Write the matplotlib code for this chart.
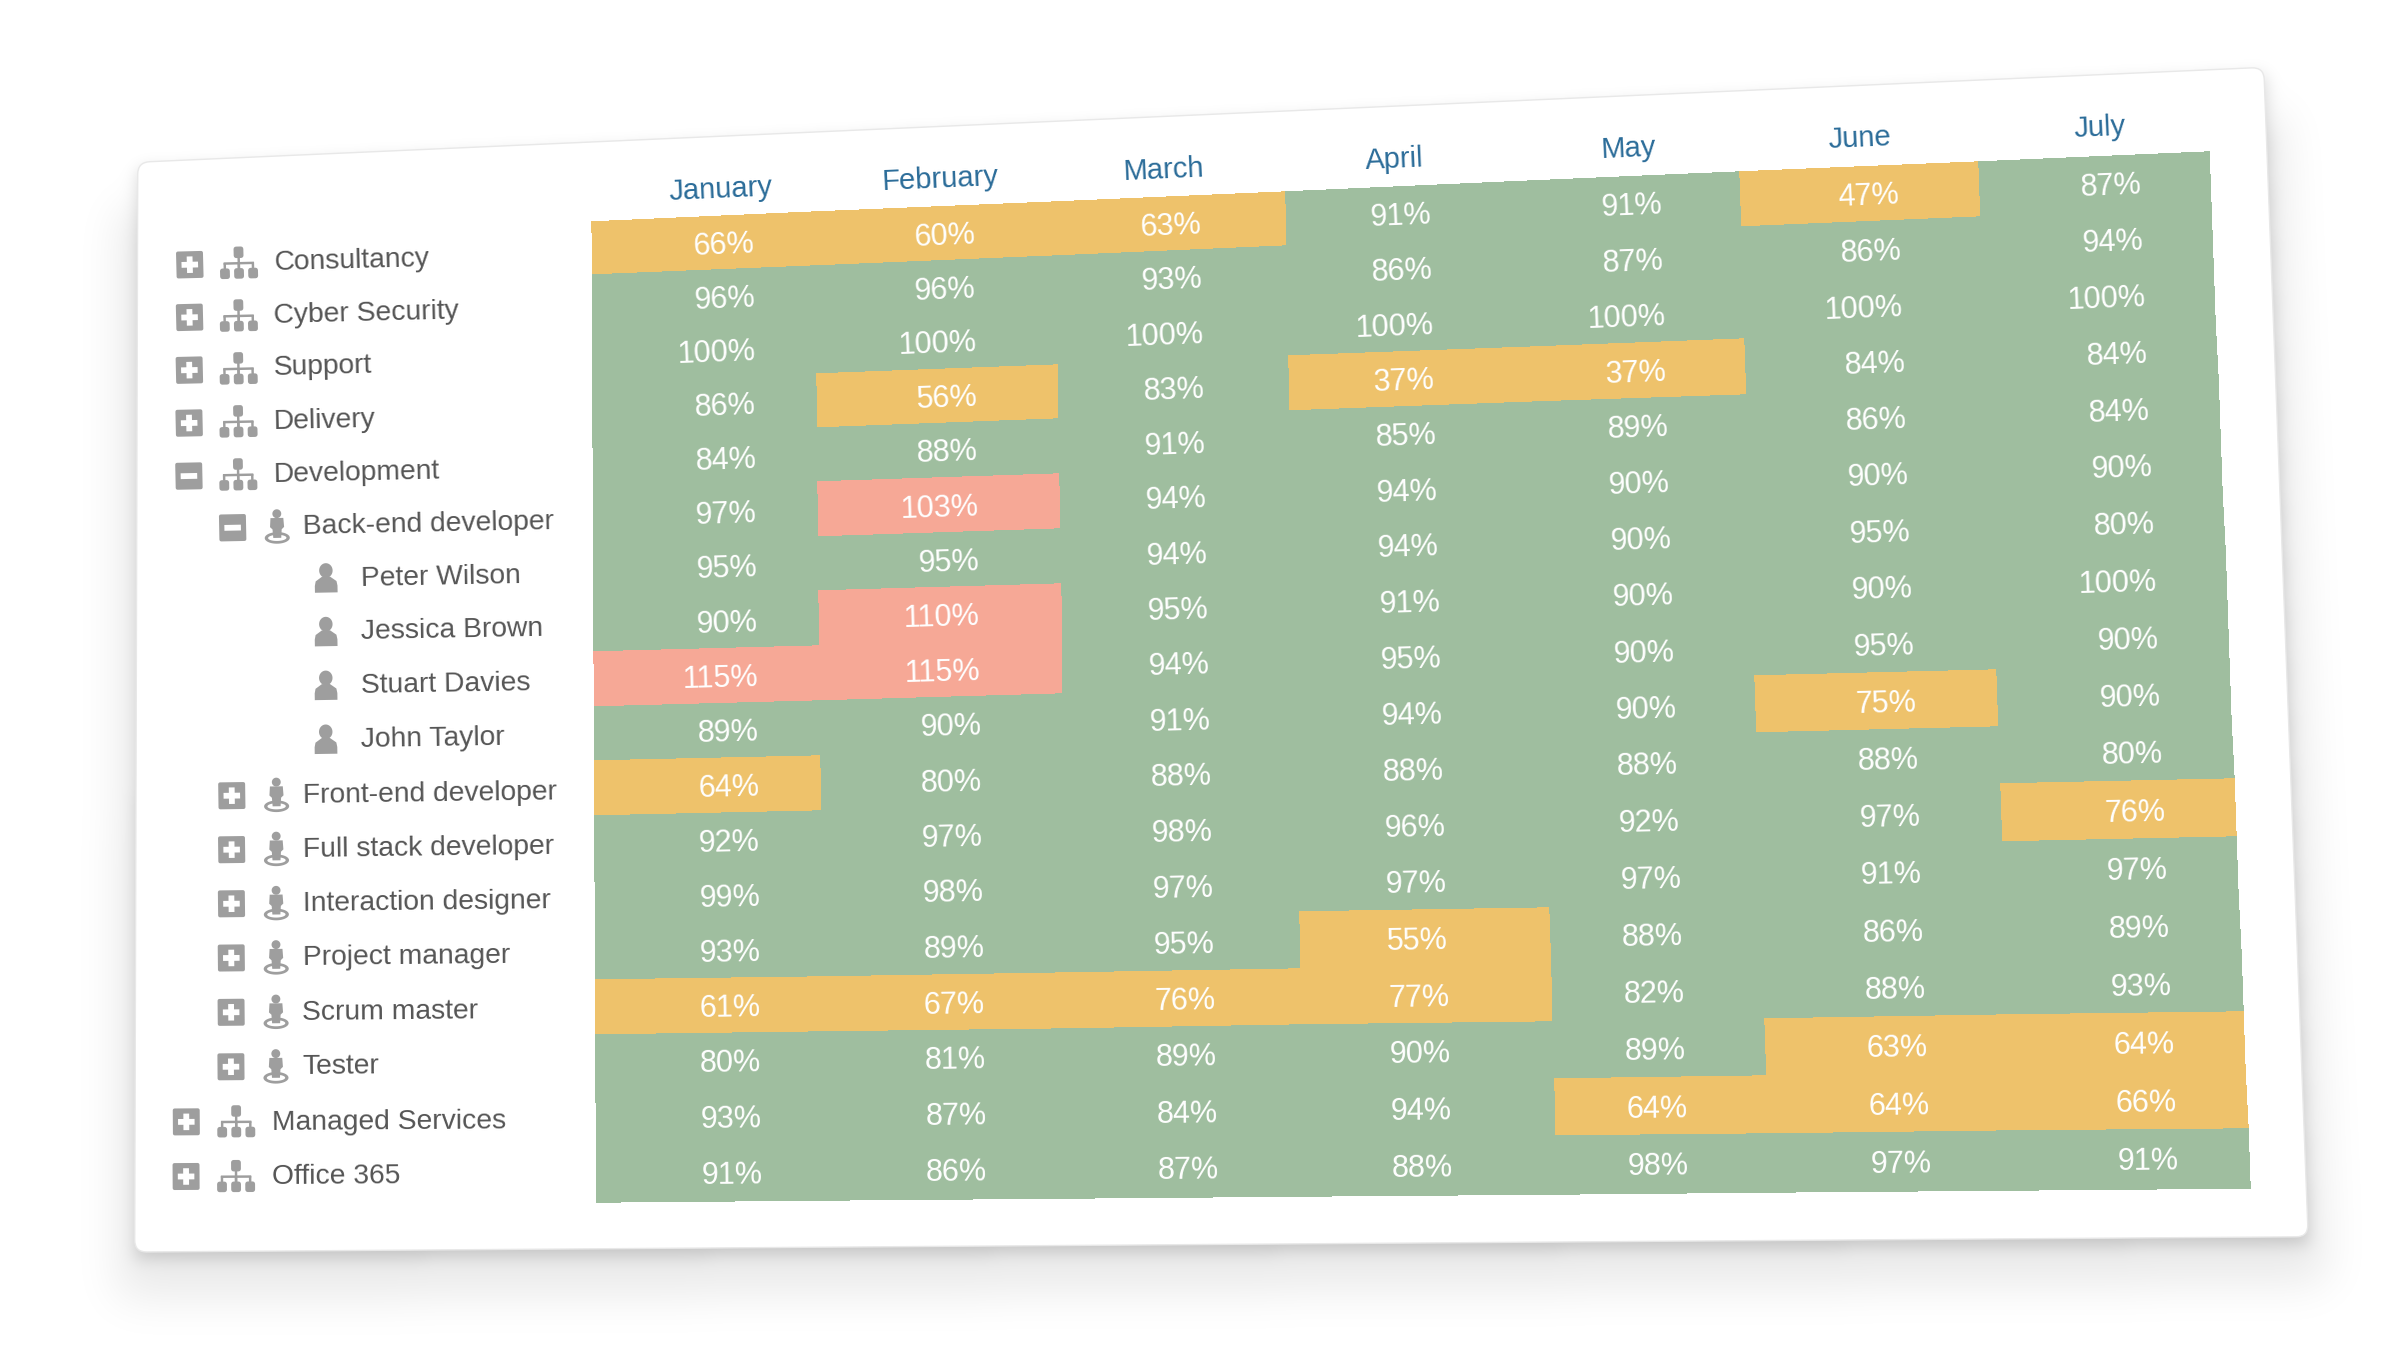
import numpy as np
import matplotlib
matplotlib.use("Agg")
import matplotlib.pyplot as plt
from matplotlib.colors import ListedColormap, BoundaryNorm
from matplotlib.patches import PathPatch, Polygon
from matplotlib.path import Path
from matplotlib.transforms import Transform

months = ["January", "February", "March", "April", "May", "June", "July"]
row_labels = ["Consultancy", "Cyber Security", "Support", "Delivery", "Development",
              "Back-end developer", "Peter Wilson", "Jessica Brown", "Stuart Davies", "John Taylor",
              "Front-end developer", "Full stack developer", "Interaction designer", "Project manager",
              "Scrum master", "Tester", "Managed Services", "Office 365"]
row_levels = [0, 0, 0, 0, 0, 1, 2, 2, 2, 2, 1, 1, 1, 1, 1, 1, 0, 0]
row_toggle = ["+", "+", "+", "+", "-", "-", "", "", "", "", "+", "+", "+", "+", "+", "+", "+", "+"]

january = [66, 96, 100, 86, 84, 97, 95, 90, 115, 89, 64, 92, 99, 93, 61, 80, 93, 91]
february = [60, 96, 100, 56, 88, 103, 95, 110, 115, 90, 80, 97, 98, 89, 67, 81, 87, 86]
march = [63, 93, 100, 83, 91, 94, 94, 95, 94, 91, 88, 98, 97, 95, 76, 89, 84, 87]
april = [91, 86, 100, 37, 85, 94, 94, 91, 95, 94, 88, 96, 97, 55, 77, 90, 94, 88]
may = [91, 87, 100, 37, 89, 90, 90, 90, 90, 90, 88, 92, 97, 88, 82, 89, 64, 98]
june = [47, 86, 100, 84, 86, 90, 95, 90, 95, 75, 88, 97, 91, 86, 88, 63, 64, 97]
july = [87, 94, 100, 84, 84, 90, 80, 100, 90, 90, 80, 76, 97, 89, 93, 64, 66, 91]
values = np.array([january, february, march, april, may, june, july]).T

# layout, measured on the 1568-wide view of the card
S = 2400 / 1568
table_quad = np.array([[387, 145], [1443, 99], [1470, 776], [390, 785]]) * S
card_quad = np.array([[90, 106], [1479, 44], [1508, 808], [88, 818]]) * S
logical_quad = np.array([[0, 0], [1056, 0], [1056, 18], [0, 18]], float)


def solve_h(src, dst):
    A, b = [], []
    for (x, y), (X, Y) in zip(src, dst):
        A.append([x, y, 1, 0, 0, 0, -x * X, -y * X]); b.append(X)
        A.append([0, 0, 0, x, y, 1, -x * Y, -y * Y]); b.append(Y)
    return np.append(np.linalg.solve(np.array(A), np.array(b)), 1).reshape(3, 3)


H = solve_h(logical_quad, table_quad)
Hinv = np.linalg.inv(H)


def u_at(xd, yd):
    p = Hinv @ np.array([xd * S, yd * S, 1.0])
    return p[0] / p[2]


class Perspective(Transform):
    input_dims = output_dims = 2
    is_separable = False
    has_inverse = False

    def transform_non_affine(self, xy):
        xy = np.asarray(xy, float)
        p = np.c_[xy, np.ones(len(xy))] @ H.T
        return p[:, :2] / p[:, 2:]

    def transform_path_non_affine(self, path):
        return Path(self.transform_non_affine(path.vertices), path.codes)


P = Perspective()


def slope_deg(u, v):
    a, b = P.transform_non_affine(np.array([[u - 20, v], [u + 20, v]]))
    return np.degrees(np.arctan2(-(b[1] - a[1]), b[0] - a[0]))


top_y = lambda x: 145 - (x - 387) * 46 / 1056
col_edges = [u_at(x, top_y(x)) for x in (387, 533, 690, 840, 1001, 1137, 1293, 1443)]
col_edges[0], col_edges[-1] = 0, 1056
text_right = [u_at(x, y) for x, y in zip((493, 637, 785, 935, 1086, 1241, 1399), (159, 153, 147, 141, 134, 128, 121))]
month_center = [u_at(x, y) for x, y in zip((471, 614, 760, 911, 1064, 1215, 1372), (122, 116, 109, 102, 96, 89, 83))]

fig = plt.figure(figsize=(24, 13.5), dpi=100, facecolor="white")
ax = fig.add_axes([0, 0, 1, 1])
ax.axis("off")
T = P + ax.transData

# ---- shadow
yy, xx = np.mgrid[0:1350:2, 0:2400:2]
def quad_mask(q):
    m = np.ones_like(xx, bool)
    for i in range(4):
        a, b = q[i], q[(i + 1) % 4]
        m &= ((b[0] - a[0]) * (yy - a[1]) - (b[1] - a[1]) * (xx - a[0])) >= 0
    return m.astype(float)
def blur(m, sx, sy):
    fy = np.fft.fftfreq(m.shape[0], 2.0)[:, None]
    fx = np.fft.rfftfreq(m.shape[1], 2.0)[None, :]
    return np.fft.irfft2(np.fft.rfft2(m) * np.exp(-2 * (np.pi ** 2) * ((fx * sx) ** 2 + (fy * sy) ** 2)), s=m.shape)
spread = np.array([[-18, 0], [18, 0], [18, 0], [-18, 0]])
wide = blur(quad_mask(card_quad + spread + np.array([0, 46])), 22, 22)
tight = blur(quad_mask(card_quad + np.array([0, 6])), 8, 8)
alpha = np.clip(0.085 * wide + 0.15 * tight, 0, 1)
rgba = np.zeros(alpha.shape + (4,))
rgba[..., 3] = alpha
ax.imshow(rgba, extent=(0, 2400, 1350, 0), interpolation="bilinear", zorder=0, aspect="auto")

# ---- card
def rounded(q, r):
    verts, codes = [], []
    n = 4
    for i in range(n):
        p, c, nx = q[i - 1], q[i], q[(i + 1) % n]
        a = c + (p - c) / np.linalg.norm(p - c) * r
        b = c + (nx - c) / np.linalg.norm(nx - c) * r
        verts += [a, c, b]
        codes += [Path.MOVETO if i == 0 else Path.LINETO, Path.CURVE3, Path.CURVE3]
    verts.append(verts[0]); codes.append(Path.CLOSEPOLY)
    return Path(verts, codes)
ax.add_patch(PathPatch(rounded(card_quad, 12), facecolor="white", edgecolor="#e8e8e8", lw=1.0, zorder=1))

# ---- heatmap
cmap = ListedColormap(["#EEC26B", "#9FBE9F", "#F6A896"])
norm = BoundaryNorm([0, 80, 101, 200], 3)
ax.pcolormesh(col_edges, np.arange(19), values, cmap=cmap, norm=norm, transform=T,
              edgecolors="face", linewidth=0.3, zorder=2)

FONT = "Liberation Sans"
for i in range(values.shape[0]):
    for j in range(values.shape[1]):
        ax.text(text_right[j], i + 0.55, f"{values[i, j]}%", transform=T, color="white", ha="right", va="center",
                fontsize=22, family=FONT, rotation=slope_deg(text_right[j], i + 0.5), rotation_mode="anchor", zorder=3)
for j, m in enumerate(months):
    ax.text(month_center[j], -0.5, m, transform=T, color="#2B6C99", ha="center", va="center",
            fontsize=21, family=FONT, rotation=slope_deg(month_center[j], -0.5), rotation_mode="anchor", zorder=3)

# ---- icons: offsets are in view px about a centre carried by the perspective
GREY = "#9E9E9E"
def center(u, v):
    return P.transform_non_affine(np.array([[u, v]]))[0]
def shape(u, v, pts, color=GREY):
    pts = np.asarray(pts, float) * S
    c = center(u, v)
    a = np.radians(-slope_deg(u, v) * 0.6)
    R = np.array([[np.cos(a), -np.sin(a)], [np.sin(a), np.cos(a)]])
    ax.add_patch(Polygon(c + pts @ R.T, closed=True, facecolor=color, edgecolor="none", zorder=3))
def rect(u, v, x0, y0, x1, y1, color=GREY):
    shape(u, v, [(x0, y0), (x1, y0), (x1, y1), (x0, y1)], color)
def ell(u, v, cx, cy, rx, ry, color=GREY):
    t = np.linspace(0, 2 * np.pi, 40)
    shape(u, v, np.c_[cx + rx * np.cos(t), cy + ry * np.sin(t)], color)
def rbox(u, v, x0, y0, x1, y1, r=1.2):
    t = np.linspace(0, np.pi / 2, 4)
    pts = []
    for cx, cy, a in [(x1 - r, y0 + r, -np.pi / 2), (x1 - r, y1 - r, 0), (x0 + r, y1 - r, np.pi / 2), (x0 + r, y0 + r, np.pi)]:
        pts += [(cx + r * np.cos(a + s), cy + r * np.sin(a + s)) for s in t]
    shape(u, v, pts)
def toggle(u, v, sign):
    rbox(u, v, -8.8, -8.8, 8.8, 8.8, 1.2)
    rect(u, v, -5.4, -1.9, 5.4, 1.9, "white")
    if sign == "+":
        rect(u, v, -1.9, -5.4, 1.9, 5.4, "white")
def org(u, v):
    rbox(u, v, -3.2, -10.5, 3.2, -3, 1.6)
    rect(u, v, -0.8, -4, 0.8, 4)
    rect(u, v, -9.9, -0.4, 9.9, 1.2)
    for dx in (-9.2, 0, 9.2):
        rect(u, v, dx - 0.8, 0, dx + 0.8, 4)
        rbox(u, v, dx - 3.2, 3.6, dx + 3.2, 10.5, 1.6)
def role(u, v):
    ell(u, v, 0, 7.6, 8.2, 3.8)
    ell(u, v, 0, 7.6, 6.0, 2.0, "white")
    ell(u, v, 0, -8.2, 2.9, 2.9)
    shape(u, v, [(-4.2, -5.4), (4.2, -5.4), (4.6, 0.5), (3.0, 2), (2.6, 7.6), (-2.6, 7.6), (-3.0, 2), (-4.6, 0.5)])
def person(u, v):
    ell(u, v, 0, -5, 4.4, 4.8)
    shape(u, v, [(-2.6, -1), (2.6, -1), (6.8, 2), (7.4, 5), (7.4, 9.4), (-7.4, 9.4), (-7.4, 5), (-6.8, 2)])

toggle_u = {0: u_at(124, 172), 1: u_at(152, 344)}
icon_u = {0: u_at(156, 172), 1: u_at(181, 344), 2: u_at(213, 378)}
text_u = {0: u_at(179, 170), 1: u_at(198, 342), 2: u_at(236, 378)}
icon_fn = {0: org, 1: role, 2: person}
for i, name in enumerate(row_labels):
    lv = row_levels[i]
    v = i + 0.5
    if row_toggle[i]:
        toggle(toggle_u[lv], v - 0.02, row_toggle[i])
    icon_fn[lv](icon_u[lv], v - 0.02)
    ax.text(text_u[lv], v + 0.01, name, transform=T, color="#555555", ha="left", va="center",
            fontsize=20.3, family=FONT, rotation=0.6 * slope_deg(text_u[lv], v), rotation_mode="anchor", zorder=3)

ax.set_xlim(0, 2400)
ax.set_ylim(1350, 0)
fig.savefig("out.png", dpi=100, facecolor="white")
